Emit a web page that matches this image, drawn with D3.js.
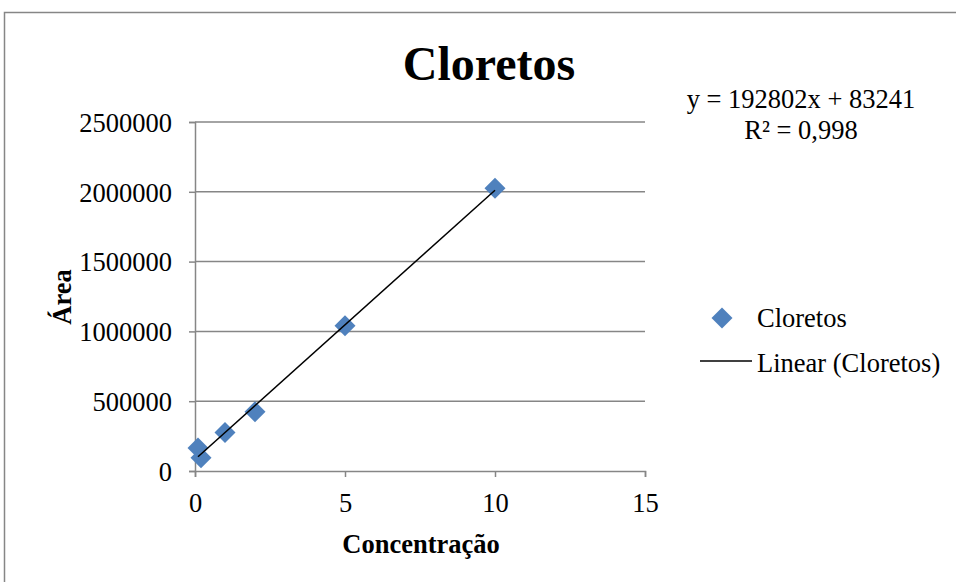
<!DOCTYPE html>
<html>
<head>
<meta charset="utf-8">
<script src="https://cdn.jsdelivr.net/npm/d3@7"></script>
<style>
  body { margin: 0; background: #fff; }
  svg text { font-family: "Liberation Serif", "Times New Roman", serif; }
</style>
</head>
<body>
<svg id="main" width="956" height="582"></svg>
<script>
"use strict";

// data
const concentracao = [0.1, 0.2, 1, 2, 5, 10];
const area = [165000, 95000, 275000, 425000, 1040000, 2025000];
const xTicks = [0, 5, 10, 15];
const yTicks = [0, 500000, 1000000, 1500000, 2000000, 2500000];
const trend = { slope: 192802, intercept: 83241 };

const svg = d3.select("#main");
const grey = "#868686";
const fs = "26.5px";

// chart frame
svg.append("rect")
  .attr("x", 4.5).attr("y", 12.5)
  .attr("width", 980).attr("height", 600)
  .attr("fill", "#fff")
  .attr("stroke", grey).attr("stroke-width", 1.5);

const x = d3.scaleLinear().domain([0, 15]).range([195, 645]);
const y = d3.scaleLinear().domain([0, 2500000]).range([471, 122]);

// grid
svg.append("g")
  .selectAll("line")
  .data(yTicks.slice(1))
  .enter().append("line")
  .attr("x1", x(0)).attr("x2", x(15))
  .attr("y1", d => y(d)).attr("y2", d => y(d))
  .attr("stroke", grey).attr("stroke-width", 1.5);

// axes
const yAxis = svg.append("g")
  .attr("transform", `translate(${x(0)},0)`)
  .call(d3.axisLeft(y).tickValues(yTicks).tickSize(6).tickPadding(17).tickFormat(d3.format("d")));
const xAxis = svg.append("g")
  .attr("transform", `translate(0,${y(0)})`)
  .call(d3.axisBottom(x).tickValues(xTicks).tickSize(6).tickPadding(16).tickFormat(d3.format("d")));

[xAxis, yAxis].forEach(a => {
  a.select(".domain").attr("stroke", grey).attr("stroke-width", 1.5);
  a.selectAll(".tick line").attr("stroke", grey).attr("stroke-width", 1.5);
  a.selectAll(".tick text")
    .attr("fill", "#000")
    .style("font-size", fs)
    .style("font-family", "'Liberation Serif', serif");
});
yAxis.selectAll(".tick text").attr("dy", "0.35em");

// points
const diamond = d3.symbol().type(d3.symbolSquare).size(220);
svg.append("g")
  .selectAll("path")
  .data(concentracao)
  .enter().append("path")
  .attr("d", diamond)
  .attr("transform", (d, i) => `translate(${x(d)},${y(area[i])}) rotate(45)`)
  .attr("fill", "#4F81BD");

// trendline
svg.append("line")
  .attr("x1", x(d3.min(concentracao)))
  .attr("y1", y(trend.slope * d3.min(concentracao) + trend.intercept))
  .attr("x2", x(d3.max(concentracao)))
  .attr("y2", y(trend.slope * d3.max(concentracao) + trend.intercept))
  .attr("stroke", "#000").attr("stroke-width", 1.5);

// titles
svg.append("text")
  .attr("x", 489).attr("y", 80)
  .attr("text-anchor", "middle")
  .style("font-size", "48px").style("font-weight", "bold")
  .text("Cloretos");

svg.append("text")
  .attr("x", 801).attr("y", 108)
  .attr("text-anchor", "middle")
  .style("font-size", fs)
  .text("y = 192802x + 83241");
svg.append("text")
  .attr("x", 801).attr("y", 139)
  .attr("text-anchor", "middle")
  .style("font-size", fs)
  .text("R² = 0,998");

svg.append("text")
  .attr("transform", "translate(71,297) rotate(-90)")
  .attr("text-anchor", "middle")
  .style("font-size", fs).style("font-weight", "bold")
  .text("Área");

svg.append("text")
  .attr("x", 421).attr("y", 553)
  .attr("text-anchor", "middle")
  .style("font-size", fs).style("font-weight", "bold")
  .text("Concentração");

// legend
svg.append("path")
  .attr("d", diamond)
  .attr("transform", "translate(722,318) rotate(45)")
  .attr("fill", "#4F81BD");
svg.append("text")
  .attr("x", 757).attr("y", 327)
  .style("font-size", fs)
  .text("Cloretos");
svg.append("line")
  .attr("x1", 700).attr("x2", 752)
  .attr("y1", 361).attr("y2", 361)
  .attr("stroke", "#000").attr("stroke-width", 1.5);
svg.append("text")
  .attr("x", 757).attr("y", 372)
  .style("font-size", fs)
  .text("Linear (Cloretos)");
</script>
</body>
</html>
